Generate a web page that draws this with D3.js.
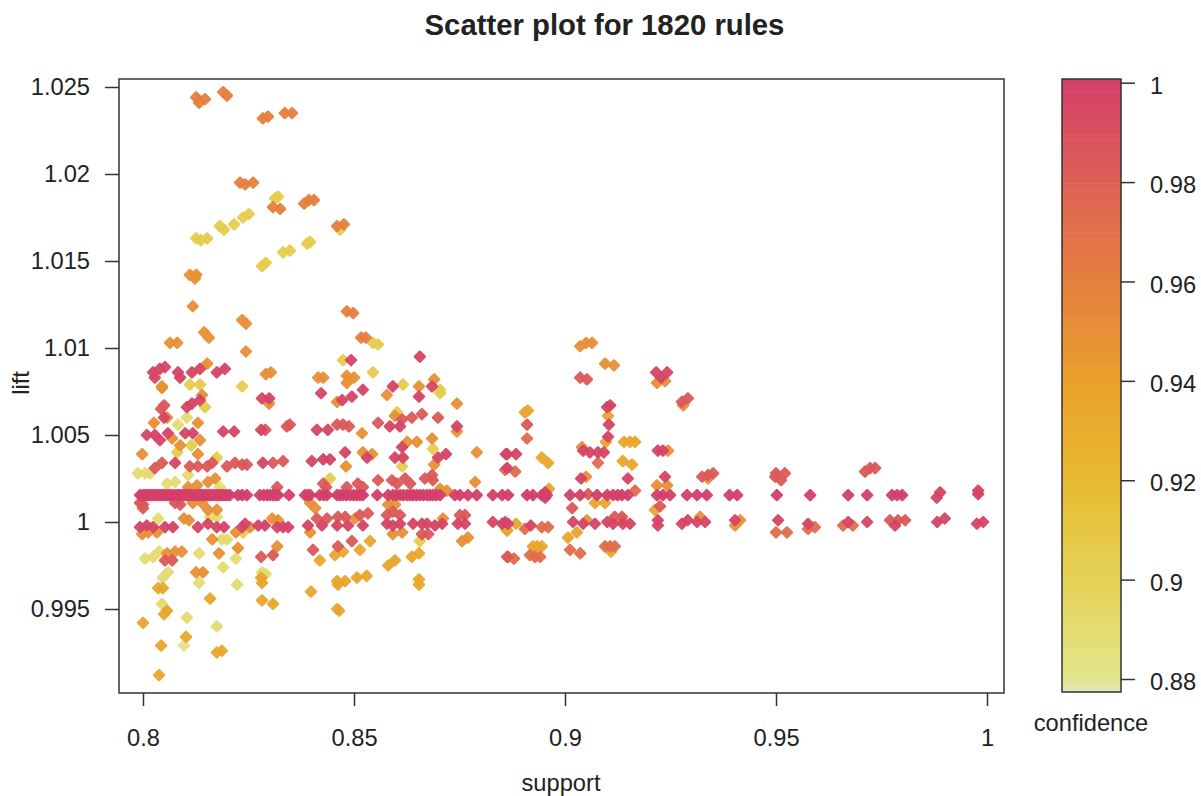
<!DOCTYPE html>
<html>
<head>
<meta charset="utf-8">
<script src="https://cdn.jsdelivr.net/npm/d3@7"></script>
<style>
body { margin: 0; background: #fff; }
text { font-family: "Liberation Sans", Arial, sans-serif; fill: #222; }
</style>
</head>
<body>
<svg id="chart" width="1201" height="796"></svg>
<script>
// [support, lift], one list per confidence level
var conf088 = [[.8097,.9929]];
var conf089 = [[.8104,.9945],[.8175,.9940],[.8133,.9965],[.8190,.9974],[.8223,.9964],[.8045,.9953],[.8005,.9979],[.8024,.9980],[.8038,.9983],
  [.8133,.9982],[.8220,.9979],[.8187,.9990],[.8199,.9990],[.8059,.9971],[.8047,.9968],[.8282,.9971],[.8291,.9970],[.8036,1.0002],[.8159,1.0003],[.8175,1.0003],
  [.7988,1.0028],[.8005,1.0028],[.8017,1.0028],[.8057,1.0022],[.8076,1.0023],[.8107,1.0027],[.8182,1.0020],[.8083,1.0056],[.8104,1.0060]];
var conf090 = [[.8126,1.0163],[.8137,1.0162],[.8152,1.0163],[.8182,1.0170],[.8192,1.0168],[.8216,1.0171],[.8237,1.0175],[.8251,1.0177],[.8313,1.0186],[.8320,1.0187],
  [.8282,1.0147],[.8291,1.0149],[.8332,1.0155],[.8348,1.0156],[.8389,1.0160],[.8396,1.0161],[.8467,1.0168],[.8545,1.0103],[.8557,1.0102],[.8474,1.0093],[.8545,1.0086],
  [.8111,1.0079],[.8135,1.0079],[.8235,1.0078],[.8616,1.0079],[.8704,1.0076],[.8147,1.0066],[.8704,1.0074],[.8114,1.0044],[.8081,1.0040],[.8175,1.0037],[.8687,1.0042],
  [.8614,1.0032],[.8443,1.0025],[.8602,1.0063],[.8656,.9989],[.8237,.9994],[.8860,.9996]];
var conf093 = [[.8038,.9912],[.8043,.9929],[.8102,.9934],[.8175,.9925],[.8187,.9926],[.8000,.9942],[.8057,.9949],[.8050,.9947],[.8036,.9962],[.8047,.9962],[.8159,.9956],
  [.8282,.9955],[.8308,.9953],[.8398,.9960],[.8460,.9966],[.8479,.9966],[.8462,.9964],[.8507,.9968],[.8530,.9969],[.8460,.9950],[.8465,.9949],[.8581,.9975],[.8597,.9978],
  [.8637,.9980],[.8654,.9982],[.8654,.9967],[.8654,.9964],[.8455,.9981],[.8474,.9983],[.8514,.9984],[.8538,.9989],[.8419,.9978],[.8280,.9968],[.8282,.9965],
  [.9007,.9991],[.9028,.9994],[.8924,.9986],[.8934,.9986],[.8945,.9986],[.9109,.9983],[.9071,1.0011],[.9095,1.0011],[.9213,1.0007],[.8863,.9995],[.8884,.9999],
  [.9140,1.0046],[.9154,1.0046],[.9166,1.0046],[.9137,1.0035],[.9159,1.0033],[.8945,1.0037],[.8960,1.0034],[.8912,1.0064],[.8905,1.0063],[.9102,1.0061],[.9097,1.0046],[.8962,1.0019]];
var conf095 = [[.8126,1.0142],[.8111,1.0142],[.8123,1.0140],[.8118,1.0124],[.8235,1.0116],[.8244,1.0114],[.8145,1.0109],[.8156,1.0106],[.8064,1.0103],[.8081,1.0103],[.8244,1.0098],[.8152,1.0091],
  [.8291,1.0085],[.8303,1.0086],[.8415,1.0083],[.8427,1.0083],[.8483,1.0080],[.8483,1.0084],[.8500,1.0083],[.8654,1.0078],[.8690,1.0082],[.8045,1.0078],[.8045,1.0077],
  [.8057,1.0060],[.8026,1.0057],[.8130,1.0057],[.8140,1.0073],[.8299,1.0068],[.8460,1.0069],[.8578,1.0073],[.8744,1.0068],[.7998,1.0039],[.8069,1.0048],[.8135,1.0047],[.8088,1.0044],[.8130,1.0039],
  [.8519,1.0051],[.8597,1.0061],[.8626,1.0046],[.8649,1.0046],[.8685,1.0048],[.8744,1.0052],[.8481,1.0032],[.8521,1.0040],[.8543,1.0039],[.8690,1.0033],[.8791,1.0040],
  [.8154,1.0023],[.8171,1.0025],[.8128,1.0021],[.8107,1.0020],[.8787,1.0023],[.8704,1.0019],[.8720,1.0018],[.8118,1.0011],[.8140,1.0011],[.8154,1.0007],[.8175,1.0007],
  [.8097,1.0002],[.8109,1.0001],[.8396,1.0011],[.8408,1.0008],[.8581,1.0010],[.8597,1.0010],[.8592,.9993],[.8614,.9994],[.8756,.9989],[.8770,.9991],[.8306,1.0002],[.8320,1.0001],
  [.7998,.9993],[.8012,.9994],[.8033,.9994],[.8220,.9994],[.8254,.9997],[.8396,.9994],[.8502,1.0002],[.8711,1.0002],[.8164,.9990],[.8057,.9982],[.8076,.9983],[.8092,.9983],
  [.8180,.9982],[.8225,.9985],[.8318,.9986],[.8126,.9971],[.8142,.9971],
  [.9036,1.0101],[.9050,1.0103],[.9064,1.0103],[.9095,1.0091],[.9116,1.0090],[.9218,1.0080],[.9237,1.0081],[.9280,1.0067],[.9040,1.0043],[.9050,1.0026],[.9218,1.0021],[.9242,1.0021],[.9244,1.0041],
  [.9052,1.0001],[.9135,1.0001],[.9415,1.0001],[.9403,.9998],[.9320,1.0003],[.9339,1.0025]];
var conf096 = [[.8126,1.0244],[.8133,1.0241],[.8147,1.0243],[.8190,1.0247],[.8199,1.0245],[.8284,1.0232],[.8296,1.0233],[.8336,1.0235],[.8353,1.0235],[.8230,1.0195],[.8242,1.0194],[.8261,1.0195],
  [.8308,1.0181],[.8325,1.0180],[.8382,1.0183],[.8393,1.0185],[.8405,1.0185],[.8460,1.0170],[.8476,1.0171],[.8483,1.0121],[.8498,1.0120],[.8517,1.0106],[.8528,1.0106]];
var conf097 = [[.9500,.9994],[.9526,.9994],[.9576,.9996],[.9592,.9997],[.9659,.9998],[.9682,.9998],[.9012,.9984],[.9036,.9982],[.9107,.9986],[.9118,.9986],[.9095,.9986],
  [.8865,.9980],[.8879,.9979],[.8929,.9980],[.8917,.9981],[.8941,.9980],[.8905,.9996],[.8945,.9997],[.8960,.9997],[.8858,1.0030],[.8882,1.0029],[.8910,1.0048],[.9166,1.0018],[.9078,1.0034]];
var conf098 = [[.8460,1.0056],[.8474,1.0056],[.8488,1.0055],[.8290,1.0053],[.8341,1.0055],[.8348,1.0056],[.8557,1.0057],[.8614,1.0059],[.8637,1.0060],[.8661,1.0062],[.8699,1.0060],
  [.8028,1.0031],[.8045,1.0034],[.8111,1.0032],[.8130,1.0032],[.8152,1.0032],[.8164,1.0034],[.8199,1.0032],[.8218,1.0034],[.8235,1.0033],[.8246,1.0033],[.8308,1.0034],[.8332,1.0035],
  [.8318,1.0020],[.8427,1.0022],[.8434,1.0020],[.8483,1.0020],[.8509,1.0022],[.8521,1.0020],[.8557,1.0024],[.8590,1.0024],[.8602,1.0022],[.8621,1.0025],[.8633,1.0022],[.8668,1.0025],[.8685,1.0027],[.8687,1.0024],
  [.8000,1.0010],[.8000,1.0008],[.7993,1.0011],[.8076,1.0011],[.8088,1.0010],[.8578,1.0004],[.8609,1.0004],[.8592,1.0006],[.8751,1.0004],[.8763,1.0004],[.8412,1.0002],[.8436,1.0002],[.8462,1.0003],[.8479,1.0003],
  [.8514,1.0004],[.8533,1.0005],[.8661,.9993],[.8676,.9993],[.8863,.9980],[.8052,.9978],[.8069,.9978],[.8280,.9980],[.8308,.9981],[.8403,.9984],[.8462,.9986],[.8495,.9989],
  [.8043,1.0065],[.8050,1.0067],[.9036,1.0083],[.9052,1.0082],[.9277,1.0069],[.9291,1.0071],[.8910,1.0056],[.9325,1.0026],[.9339,1.0027],[.9351,1.0028],[.9500,1.0028],[.9521,1.0028],[.9512,1.0024],[.9498,1.0026],
  [.9711,1.0029],[.9723,1.0031],[.9735,1.0031],[.9017,1.0008],[.9225,1.0009],[.9118,1.0003],[.9135,1.0003],[.9770,1.0001],[.9789,1.0001],[.9806,1.0001],[.9055,1.0016]];
var conf100 = [[.8024,1.0086],[.8040,1.0088],[.8052,1.0089],[.8028,1.0083],[.8083,1.0086],[.8088,1.0083],[.8116,1.0086],[.8135,1.0088],[.8175,1.0086],[.8194,1.0088],[.8493,1.0093],[.8656,1.0095],[.8592,1.0078],[.8685,1.0078],
  [.8116,1.0068],[.8135,1.0070],[.8104,1.0066],[.8282,1.0071],[.8299,1.0071],[.8422,1.0074],[.8472,1.0070],[.8495,1.0072],[.8521,1.0076],[.8654,1.0072],[.8050,1.0060],
  [.8009,1.0050],[.8028,1.0050],[.8040,1.0047],[.8059,1.0051],[.8100,1.0051],[.8118,1.0051],[.8190,1.0052],[.8216,1.0052],[.8280,1.0053],[.8412,1.0053],[.8438,1.0053],[.8585,1.0055],[.8609,1.0055],[.8744,1.0055],
  [.8076,1.0034],[.8284,1.0034],[.8400,1.0035],[.8427,1.0036],[.8443,1.0036],[.8479,1.0040],[.8531,1.0037],[.8614,1.0043],[.8597,1.0037],[.8616,1.0037],[.8699,1.0037],[.8718,1.0039],[.8863,1.0039],[.8863,1.0031],
  [.8578,.9999],[.8592,.9998],[.8609,.9999],[.8746,.9999],[.8763,.9999],
  [.7993,.9997],[.8009,.9998],[.8024,.9997],[.8052,.9997],[.8071,.9997],[.8130,.9997],[.8154,.9999],[.8175,.9997],[.8192,.9997],[.8235,.9997],[.8242,.9999],[.8273,.9998],[.8289,.9998],[.8318,.9997],[.8332,.9997],[.8344,.9997],
  [.8391,.9998],[.8424,.9998],[.8460,.9998],[.8486,.9998],[.8521,.9998],[.8640,.9999],[.8661,.9999],[.8673,.9999],[.8692,.9998],[.8709,.9999],[.8829,1.0000],[.8851,.9999],[.8865,.9999],
  [.9107,1.0067],[.9100,1.0066],[.9104,1.0056],[.9102,1.0049],[.9216,1.0086],[.9242,1.0086],[.9228,1.0083],[.8860,1.0039],[.8884,1.0039],[.9043,1.0041],[.9059,1.0040],[.9078,1.0040],[.9092,1.0040],
  [.9038,1.0025],[.9149,1.0025],[.9237,1.0026],[.9220,1.0041],[.9232,1.0041],[.8953,1.0017],[.8953,1.0014],[.9881,1.0014],[.9889,1.0017],[.9979,1.0018],[.9979,1.0016],
  [.8858,1.0000],[.8919,.9998],[.9019,1.0000],[.9043,.9999],[.9071,.9999],[.9100,1.0000],[.9114,.9999],[.9137,.9999],[.9154,.9999],[.9220,1.0001],[.9220,.9998],[.9277,.9999],[.9291,1.0001],[.9313,1.0000],[.9332,1.0000],
  [.9403,1.0001],[.9505,1.0001],[.9576,.9999],[.9671,1.0000],[.9716,1.0000],[.9782,.9998],[.9882,1.0000],[.9900,1.0002],[.9976,.9999],[.9991,1.0000]];
// the long row of rules around lift 1.0015
var rowSupport = [.7993,.8,.8005,.801,.8015,.802,.8025,.803,.8035,.804,.8045,.805,.8055,.806,.8065,.807,.8075,.808,.8085,.809,.8095,.81,.8105,.811,.8115,.812,.8125,.813,.8135,.814,.8145,.815,.8155,.816,.8165,.817,.8175,.818,.8185,.819,.8195,.82,.8206,.8225,.8235,.8246,.8277,.8286,.8294,.8301,.8308,.8314,.832,.8346,.8384,.8390,.8396,.8419,.8428,.8436,.846,.8467,.8474,.8482,.8491,.8499,.8507,.8514,.8521,.8555,.8581,.8592,.86,.8609,.8617,.8626,.8633,.864,.8648,.8656,.8664,.8673,.868,.8687,.8695,.8704,.8739,.8751,.877,.8791,.8829,.8851,.8865,.891,.8924,.8945,.8957,.9012,.9036,.9076,.91,.9114,.9125,.9135,.9149,.9218,.9232,.9249,.9289,.9313,.9336,.939,.9408,.9502,.9581,.9671,.9716,.9775,.9787,.9799];
var rowLift = 1.00155;

var xTicks = [0.8, 0.85, 0.9, 0.95, 1];
var yTicks = [0.995, 1, 1.005, 1.01, 1.015, 1.02, 1.025];
var legendTicks = [0.88, 0.9, 0.92, 0.94, 0.96, 0.98, 1];
var colorStops = [0.8774, 0.8790, 0.88, 0.9, 0.92, 0.94, 0.96, 0.98, 1.0007];
var colorRange = ["#e2e6bd", "#e2e6a0", "#e2e68a", "#e5d255", "#e8ba30", "#e9a02b", "#e67f3f", "#dd6155", "#d33f6a"];

var points = [];
function addLevel(list, c) {
    list.forEach(function (d) { points.push({ support: d[0], lift: d[1], confidence: c }); });
}
addLevel(conf088, 0.882);
addLevel(conf089, 0.89);
addLevel(conf090, 0.905);
addLevel(conf093, 0.935);
addLevel(conf095, 0.95);
addLevel(conf096, 0.96);
addLevel(conf097, 0.972);
addLevel(conf098, 0.984);
addLevel(conf100, 0.997);
addLevel(rowSupport.map(function (s) { return [s, rowLift]; }), 1);

var svg = d3.select("#chart");
var box = { left: 119, right: 1004, top: 79, bottom: 693 };
var x = d3.scaleLinear().domain([0.8, 1]).range([143, 987]);
var y = d3.scaleLinear().domain([0.995, 1.025]).range([609, 87]);
var color = d3.scaleLinear().domain(colorStops).range(colorRange).interpolate(d3.interpolateRgb);
var labelSize = 23.7;

var xAxis = d3.axisBottom(x).tickValues(xTicks).tickFormat(d3.format("~g")).tickSize(13).tickPadding(23);
var yAxis = d3.axisLeft(y).tickValues(yTicks).tickFormat(d3.format("~g")).tickSize(14).tickPadding(15);

svg.append("g").selectAll("path")
    .data(points.slice().sort(function (a, b) { return a.confidence - b.confidence; }))
    .enter().append("path")
    .attr("d", d3.symbol().type(d3.symbolSquare).size(50))
    .attr("transform", function (d) { return "translate(" + x(d.support) + "," + y(d.lift) + ") rotate(45)"; })
    .attr("fill", function (d) { return color(d.confidence); })
    .attr("stroke", function (d) { return color(d.confidence); })
    .attr("stroke-width", 2.4)
    .attr("stroke-linejoin", "round")
    .attr("opacity", 0.95);

svg.append("rect")
    .attr("x", box.left).attr("y", box.top)
    .attr("width", box.right - box.left).attr("height", box.bottom - box.top)
    .attr("fill", "none").attr("stroke", "#333").attr("stroke-width", 1.5);

var xg = svg.append("g").attr("transform", "translate(0," + box.bottom + ")").call(xAxis);
var yg = svg.append("g").attr("transform", "translate(" + box.left + ",0)").call(yAxis);
[xg, yg].forEach(function (g) {
    g.select(".domain").remove();
    g.selectAll("line").attr("stroke", "#333").attr("stroke-width", 1.5);
    g.selectAll("text").attr("font-size", labelSize).attr("font-family", "Liberation Sans, Arial, sans-serif").attr("fill", "#222");
});

// colour key
var keyBox = { left: 1062, right: 1121, top: 79, bottom: 692 };
var key = d3.scaleLinear().domain([0.88, 1]).range([679, 82.7]);
var cellH = (keyBox.bottom - keyBox.top) / 100;
svg.append("g").selectAll("rect")
    .data(d3.range(100))
    .enter().append("rect")
    .attr("x", keyBox.left)
    .attr("y", function (i) { return keyBox.top + i * cellH; })
    .attr("width", keyBox.right - keyBox.left)
    .attr("height", cellH + 0.5)
    .attr("fill", function (i) { return color(key.invert(keyBox.top + (i + 0.5) * cellH)); });
svg.append("rect")
    .attr("x", keyBox.left).attr("y", keyBox.top)
    .attr("width", keyBox.right - keyBox.left).attr("height", keyBox.bottom - keyBox.top)
    .attr("fill", "none").attr("stroke", "#333").attr("stroke-width", 1.5);
var kg = svg.append("g").attr("transform", "translate(" + keyBox.right + ",0)")
    .call(d3.axisRight(key).tickValues(legendTicks).tickFormat(d3.format("~g")).tickSize(14).tickPadding(15));
kg.select(".domain").remove();
kg.selectAll("line").attr("stroke", "#333").attr("stroke-width", 1.5);
kg.selectAll("text").attr("font-size", labelSize).attr("font-family", "Liberation Sans, Arial, sans-serif").attr("fill", "#222")
    .attr("transform", "translate(0,3)");

svg.append("text").attr("x", 604.5).attr("y", 35).attr("text-anchor", "middle")
    .attr("font-size", 29.3).attr("font-weight", "bold").attr("fill", "#111").text("Scatter plot for 1820 rules");
svg.append("text").attr("x", 561).attr("y", 791).attr("text-anchor", "middle")
    .attr("font-size", labelSize).text("support");
svg.append("text").attr("transform", "translate(29,383) rotate(-90)").attr("text-anchor", "middle")
    .attr("font-size", labelSize).text("lift");
svg.append("text").attr("x", 1091).attr("y", 731).attr("text-anchor", "middle")
    .attr("font-size", labelSize).text("confidence");
</script>
</body>
</html>
